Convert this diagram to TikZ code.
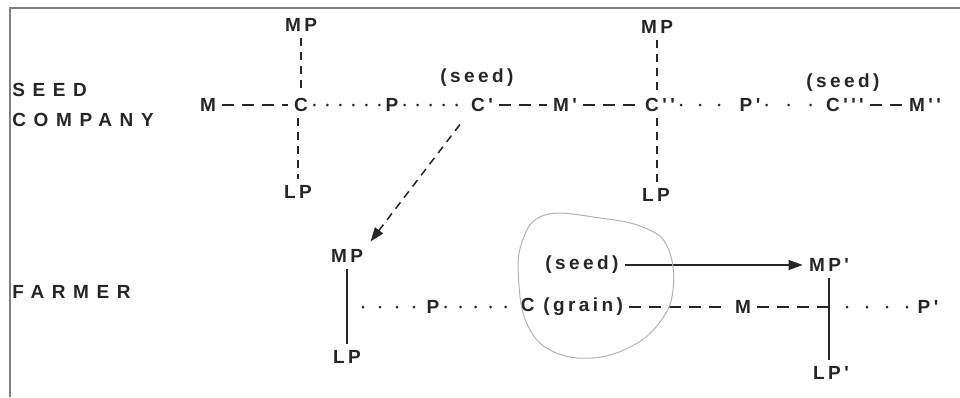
\documentclass[tikz,border=0pt]{standalone}
\usepackage{fontspec}
\usetikzlibrary{arrows.meta}
\newfontfamily\diagfont{Liberation Sans Bold}[LetterSpace=18]
\newfontfamily\sidefont{Liberation Sans Bold}[LetterSpace=40]
\definecolor{ink}{gray}{0.15}
\tikzset{
  lbl/.style={font=\diagfont\fontsize{9.5}{11}\selectfont, text=ink, inner sep=3pt},
  side/.style={font=\sidefont\fontsize{9.5}{11}\selectfont, text=ink, anchor=west, inner sep=0pt},
  dashline/.style={draw=ink, line width=0.75pt, dash pattern=on 6pt off 4pt},
  tickline/.style={draw=ink, line width=0.75pt, dash pattern=on 4pt off 3pt},
  dotline/.style={draw=ink, line width=1.5pt, line cap=round, dash pattern=on 0pt off #1},
  dotline/.default=6.5pt,
  solidline/.style={draw=ink, line width=0.6pt},
  tip/.style={-{Triangle[length=7pt,width=5pt]}},
}

\begin{document}
\begin{tikzpicture}[x=0.5pt, y=-0.5pt]
  \useasboundingbox (0,0) rectangle (960,397);
  \draw [gray, line width=0.8pt] (10,397) -- (10,8) -- (960,8);

  \node [side] (seed) at (12,90) {SEED};
  \node [side] (company) at (12,120) {COMPANY};
  \node [side] (farmer) at (12,292) {FARMER};

  \node [lbl] (M1) at (208,105) {M};
  \node [lbl] (C1) at (301,105) {C};
  \node [lbl] (MP1) at (301,25) {MP};
  \node [lbl] (LP1) at (298,192) {LP};
  \node [lbl] (P1) at (392,105) {P};
  \node [lbl] (C2) at (482,105) {C'};
  \node [lbl] (seed1) at (477,78) {(seed)};
  \node [lbl] (M2) at (565,105) {M'};
  \node [lbl] (C3) at (660,105) {C''};
  \node [lbl] (MP2) at (657,27) {MP};
  \node [lbl] (LP2) at (656,195) {LP};
  \node [lbl] (P2) at (750,105) {P'};
  \node [lbl] (seed2) at (843,83) {(seed)};
  \node [lbl] (C4) at (845,105) {C'''};
  \node [lbl] (M3) at (925,105) {M''};

  \draw [dashline] (M1) -- (C1);
  \draw [dotline] (C1) -- (P1);
  \draw [dotline] (P1) -- (C2);
  \draw [dashline] (C2) -- (M2);
  \draw [dashline] (M2) -- (C3);
  \draw [dotline=9.5pt] (C3) -- (P2);
  \draw [dotline=11pt] (P2) -- (C4);
  \draw [dashline] (C4) -- (M3);
  \draw [tickline] (MP1) -- (MP1 |- C1.north);
  \draw [tickline] (C1.south -| LP1) -- (LP1);
  \draw [tickline] (MP2) -- (MP2 |- C3.north);
  \draw [tickline] (C3.south -| MP2) -- (MP2 |- LP2.north);

  \node [lbl] (MP3) at (347,256) {MP};
  \node [lbl] (LP3) at (347,357) {LP};
  \node [lbl] (P3) at (433,307) {P};
  \node [lbl] (C5) at (572,307) {C (grain)};
  \node [lbl] (seed3) at (582,265) {(seed)};
  \node [lbl] (M4) at (743,307) {M};
  \node [lbl] (MP4) at (829,265) {MP'};
  \node [lbl] (LP4) at (831,373) {LP'};
  \node [lbl] (P4) at (928,307) {P'};
  \coordinate (j1) at (MP3 |- P3);
  \coordinate (j2) at (MP4 |- M4);

  \draw [tickline, tip, shorten <=4pt, shorten >=1pt] (C2.south west) -- (MP3.north east);
  \draw [solidline] (MP3) -- (LP3);
  \draw [dotline=8.5pt, shorten <=8pt] (j1) -- (P3);
  \draw [dotline=7.5pt] (P3) -- (C5);
  \draw [dashline] (C5) -- (M4);
  \draw [dashline] (M4) -- (j2);
  \draw [solidline] (MP4) -- (MP4 |- LP4.north);
  \draw [dotline=10pt, shorten <=9pt] (j2) -- (P4);
  \draw [solidline, tip] (seed3) -- (MP4);

  \draw [gray!60, line width=0.5pt] plot [smooth cycle, tension=0.7] coordinates {(545,215) (600,218) (645,228) (668,248) (673,290) (660,322) (632,346) (592,358) (552,351) (528,326) (519,285) (522,242)};
\end{tikzpicture}
\end{document}
